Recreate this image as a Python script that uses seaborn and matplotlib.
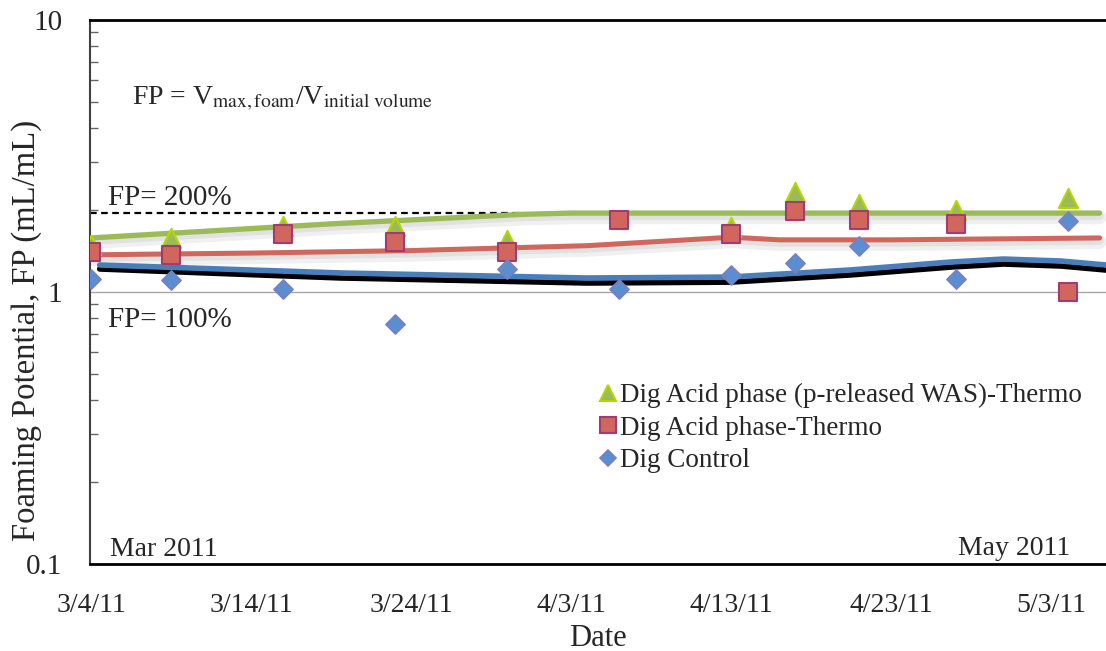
import matplotlib
matplotlib.use("Agg")
import numpy as np
import pandas as pd
import seaborn as sns
import matplotlib.pyplot as plt
import matplotlib.patheffects as pe
from matplotlib.lines import Line2D

# sample dates and foaming potential
sample_dates = ["2011-03-04 00:00", "2011-03-09 00:00", "2011-03-16 00:00", "2011-03-23 00:00",
                "2011-03-30 00:00", "2011-04-06 00:00", "2011-04-13 00:00", "2011-04-17 00:00",
                "2011-04-21 00:00", "2011-04-27 00:00", "2011-05-04 00:00"]
fp_pwas = [1.49, 1.58, 1.75, 1.75, 1.55, np.nan, 1.73, 2.33, 2.11, 2.00, 2.22]
fp_acid = [1.40, 1.37, 1.63, 1.53, 1.40, 1.84, 1.63, 1.99, 1.84, 1.78, 1.00]
fp_ctrl = [1.12, 1.11, 1.03, 0.76, 1.22, 1.03, 1.15, 1.28, 1.48, 1.12, 1.82]

# hand drawn trend lines
green_dates = ["2011-03-04 00:00", "2011-03-19 00:00", "2011-03-31 00:00", "2011-04-03 00:00",
               "2011-05-06 00:00"]
green_fp = [1.58, 1.78, 1.93, 1.95, 1.95]
red_dates = ["2011-03-04 00:00", "2011-03-14 00:00", "2011-03-24 00:00", "2011-04-04 00:00",
             "2011-04-13 00:00", "2011-04-16 00:00", "2011-04-23 00:00", "2011-05-06 00:00"]
red_fp = [1.37, 1.39, 1.42, 1.48, 1.59, 1.555, 1.555, 1.58]
blue_dates = ["2011-03-04 13:00", "2011-03-19 14:00", "2011-04-04 00:00", "2011-04-12 22:00",
              "2011-04-20 10:00", "2011-04-26 17:00", "2011-04-30 00:00", "2011-05-03 14:00",
              "2011-05-06 10:00"]
blue_fp = [1.257, 1.175, 1.126, 1.135, 1.205, 1.289, 1.322, 1.300, 1.257]
black_fp = [1.215, 1.126, 1.079, 1.087, 1.155, 1.235, 1.267, 1.246, 1.204]

ref_dates = ["2011-03-03 23:00", "2011-03-31 00:00"]
ref_fp = [1.96, 1.96]

tick_dates = ["2011-03-04", "2011-03-14", "2011-03-24", "2011-04-03", "2011-04-13", "2011-04-23", "2011-05-03"]
tick_labels = ["3/4/11", "3/14/11", "3/24/11", "4/3/11", "4/13/11", "4/23/11", "5/3/11"]

sns.set_style("white")
plt.rcParams["font.family"] = ["Liberation Serif", "DejaVu Serif"]
plt.rcParams["mathtext.fontset"] = "stix"

fig = plt.figure(figsize=(11.06, 6.51), dpi=100)
ax = fig.add_axes([90 / 1106, 87 / 651, 1016 / 1106, 544 / 651])

green = "#9BBB59"
red = "#D0665C"
blue = "#4A7EBB"

shadow = [pe.SimpleLineShadow(offset=(0, -3), shadow_color="k", alpha=0.06, linewidth=10),
          pe.SimpleLineShadow(offset=(0, -2), shadow_color="k", alpha=0.06, linewidth=6),
          pe.Normal()]

sns.lineplot(x=pd.to_datetime(ref_dates), y=ref_fp, ax=ax, color="k", lw=1.6, ls=(0, (3, 2)), zorder=2)
sns.lineplot(x=pd.to_datetime(green_dates), y=green_fp, ax=ax, color=green, lw=3.8,
             path_effects=shadow, zorder=3)
sns.lineplot(x=pd.to_datetime(red_dates), y=red_fp, ax=ax, color=red, lw=3.6,
             path_effects=shadow, zorder=3)
sns.lineplot(x=pd.to_datetime(blue_dates), y=black_fp, ax=ax, color="k", lw=4, zorder=3)
sns.lineplot(x=pd.to_datetime(blue_dates), y=blue_fp, ax=ax, color=blue, lw=4, zorder=3)

dts = pd.to_datetime(sample_dates)
sns.scatterplot(x=dts, y=fp_pwas, ax=ax, marker="^", s=190, color=green,
                edgecolor="#B5D600", linewidth=1.5, zorder=4)
sns.scatterplot(x=dts, y=fp_acid, ax=ax, marker="s", s=185, color=red,
                edgecolor="#A23B72", linewidth=1.5, zorder=5)
sns.scatterplot(x=dts, y=fp_ctrl, ax=ax, marker="D", s=95, color="#5A8ED0",
                edgecolor="#7B7FC0", linewidth=1.2, zorder=6)

ax.set_yscale("log")
ax.set_ylim(0.1, 10)
ax.set_xlim(pd.Timestamp("2011-03-04") - pd.Timedelta(hours=1.5),
            pd.Timestamp("2011-03-04") + pd.Timedelta(days=63.4))
ax.set_yticks([0.1, 1, 10])
ax.set_yticklabels(["0.1", "1", "10"])
ax.set_xticks(pd.to_datetime(tick_dates))
ax.set_xticklabels(tick_labels)
ax.yaxis.grid(True, which="major", color="0.65", lw=1)
ax.xaxis.grid(False)

ax.tick_params(axis="x", length=0, pad=21, labelsize=20)
ax.tick_params(axis="y", which="major", length=0, pad=20, labelsize=21)
ax.tick_params(axis="y", which="minor", direction="in", length=6, width=1, color="0.4", left=True)

for s in ["top", "bottom"]:
    ax.spines[s].set_color("k")
    ax.spines[s].set_linewidth(2)
ax.spines["left"].set_color("0.25")
ax.spines["left"].set_linewidth(1.5)
ax.spines["right"].set_visible(False)

ax.set_xlabel("Date", fontsize=22, labelpad=4)
ax.set_ylabel("Foaming Potential, FP (mL/mL)", fontsize=23.5)
ax.yaxis.set_label_coords(-0.047, 0.430)

ax.text(0.0413, 0.844, r"FP = V$_{\mathrm{max,foam}}$/V$_{\mathrm{initial\ volume}}$",
        transform=ax.transAxes, fontsize=20, va="baseline")
ax.text(0.0177, 0.660, "FP= 200%", transform=ax.transAxes, fontsize=21, va="baseline")
ax.text(0.0177, 0.436, "FP= 100%", transform=ax.transAxes, fontsize=21, va="baseline")
ax.text(0.0197, 0.014, "Mar 2011", transform=ax.transAxes, fontsize=20, va="baseline")
ax.text(0.9646, 0.016, "May 2011", transform=ax.transAxes, fontsize=20, va="baseline", ha="right")

handles = [
    Line2D([], [], ls="", marker="^", ms=11, color=green, markeredgecolor="#B5D600", mew=1.5),
    Line2D([], [], ls="", marker="s", ms=11, color=red, markeredgecolor="#A23B72", mew=1.5),
    Line2D([], [], ls="", marker="D", ms=8, color="#5A8ED0", markeredgecolor="#7B7FC0", mew=1.2),
]
labels = ["Dig Acid phase (p-released WAS)-Thermo", "Dig Acid phase-Thermo", "Dig Control"]
ax.legend(handles, labels, loc="upper left", bbox_to_anchor=(0.502, 0.333), frameon=False,
          fontsize=19.5, handlelength=0.6, handletextpad=0.15, labelspacing=0.28,
          borderpad=0, borderaxespad=0)

fig.savefig("out.png", dpi=100)
